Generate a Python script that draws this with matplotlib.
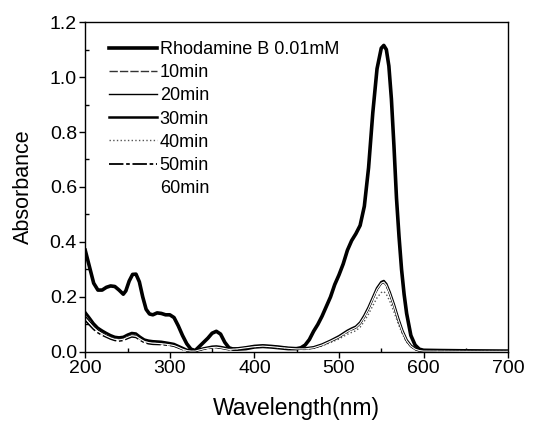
import matplotlib
matplotlib.use("Agg")
import matplotlib.pyplot as plt
from matplotlib.ticker import MultipleLocator

plt.rcParams['font.family'] = ['Liberation Sans', 'DejaVu Sans']

# Rhodamine B 0.01 mM reference spectrum
wl_rb = [200, 205, 210, 215, 220, 225, 230, 235, 240, 245, 248, 252, 256, 260,
         264, 268, 272, 276, 280, 285, 290, 295, 300, 305, 310, 315, 320, 325,
         330, 335, 340, 345, 350, 355, 360, 365, 370, 375, 380, 390, 400, 410,
         420, 430, 440, 450, 455, 460, 465, 470, 475, 480, 485, 490, 495, 500,
         505, 510, 515, 520, 525, 530, 535, 540, 545, 550, 553, 556, 559, 562,
         565, 568, 571, 574, 577, 580, 585, 590, 595, 600, 620, 650, 700]
abs_rb = [0.37, 0.31, 0.25, 0.225, 0.225, 0.235, 0.24, 0.238, 0.225, 0.21, 0.222,
          0.258, 0.282, 0.283, 0.255, 0.2, 0.155, 0.138, 0.135, 0.142, 0.14, 0.135,
          0.135, 0.125, 0.095, 0.06, 0.03, 0.01, 0.005, 0.02, 0.035, 0.05, 0.068,
          0.075, 0.065, 0.035, 0.015, 0.01, 0.01, 0.012, 0.018, 0.02, 0.018, 0.015,
          0.012, 0.012, 0.015, 0.025, 0.045, 0.075, 0.1, 0.13, 0.165, 0.2, 0.245,
          0.28, 0.32, 0.37, 0.405, 0.43, 0.46, 0.53, 0.67, 0.87, 1.03, 1.105, 1.115,
          1.10, 1.04, 0.92, 0.75, 0.56, 0.42, 0.30, 0.21, 0.14, 0.06, 0.025, 0.01,
          0.006, 0.005, 0.004, 0.003]

# spectra after irradiation (shared wavelength grid)
wl_t = [200, 205, 210, 215, 220, 225, 230, 235, 240, 245, 250, 255, 260, 265,
        270, 275, 280, 290, 300, 305, 310, 315, 320, 325, 330, 335, 340, 350,
        355, 360, 370, 380, 390, 400, 410, 420, 430, 440, 450, 460, 470, 480,
        490, 500, 505, 510, 515, 520, 525, 530, 535, 540, 545, 550, 553, 556,
        560, 565, 570, 575, 580, 585, 590, 595, 600, 650, 700]
abs_10 = [0.14, 0.12, 0.10, 0.085, 0.075, 0.066, 0.058, 0.052, 0.05, 0.052, 0.06,
          0.066, 0.064, 0.052, 0.042, 0.038, 0.036, 0.034, 0.03, 0.027, 0.02, 0.013,
          0.007, 0.004, 0.004, 0.008, 0.012, 0.018, 0.019, 0.017, 0.01, 0.012,
          0.016, 0.02, 0.022, 0.02, 0.017, 0.014, 0.012, 0.012, 0.016, 0.026, 0.04,
          0.055, 0.065, 0.075, 0.083, 0.09, 0.105, 0.13, 0.16, 0.195, 0.23, 0.252,
          0.256, 0.245, 0.215, 0.17, 0.12, 0.075, 0.042, 0.022, 0.01, 0.005,
          0.003, 0.002, 0.002]
abs_20 = [0.13, 0.112, 0.094, 0.08, 0.07, 0.061, 0.054, 0.048, 0.046, 0.048, 0.055,
          0.061, 0.059, 0.048, 0.039, 0.035, 0.033, 0.031, 0.027, 0.024, 0.018, 0.011,
          0.006, 0.003, 0.003, 0.007, 0.011, 0.016, 0.017, 0.015, 0.009, 0.011,
          0.015, 0.019, 0.021, 0.019, 0.016, 0.013, 0.011, 0.011, 0.015, 0.025, 0.039,
          0.054, 0.064, 0.074, 0.082, 0.089, 0.104, 0.128, 0.158, 0.193, 0.228, 0.25,
          0.254, 0.243, 0.213, 0.168, 0.118, 0.074, 0.041, 0.021, 0.01, 0.005,
          0.003, 0.002, 0.002]
abs_30 = [0.145, 0.125, 0.104, 0.088, 0.078, 0.069, 0.061, 0.055, 0.053, 0.055, 0.063,
          0.069, 0.067, 0.055, 0.045, 0.041, 0.039, 0.037, 0.032, 0.029, 0.022, 0.015,
          0.008, 0.005, 0.005, 0.009, 0.013, 0.019, 0.02, 0.018, 0.012, 0.013,
          0.017, 0.022, 0.024, 0.022, 0.019, 0.015, 0.013, 0.013, 0.017, 0.027, 0.041,
          0.057, 0.067, 0.077, 0.085, 0.092, 0.107, 0.132, 0.162, 0.197, 0.232, 0.254,
          0.258, 0.247, 0.217, 0.172, 0.122, 0.077, 0.043, 0.023, 0.011, 0.005,
          0.003, 0.002, 0.002]
abs_40 = [0.12, 0.104, 0.088, 0.075, 0.066, 0.058, 0.051, 0.046, 0.044, 0.046, 0.052,
          0.058, 0.056, 0.046, 0.037, 0.033, 0.031, 0.029, 0.025, 0.022, 0.016, 0.01,
          0.005, 0.003, 0.003, 0.006, 0.01, 0.015, 0.016, 0.014, 0.009, 0.01,
          0.014, 0.018, 0.02, 0.018, 0.015, 0.012, 0.01, 0.01, 0.014, 0.022, 0.034,
          0.047, 0.056, 0.064, 0.071, 0.077, 0.09, 0.112, 0.138, 0.168, 0.197, 0.216,
          0.22, 0.21, 0.185, 0.146, 0.103, 0.065, 0.036, 0.019, 0.009, 0.004,
          0.003, 0.002, 0.002]
abs_50 = [0.115, 0.098, 0.082, 0.07, 0.061, 0.054, 0.047, 0.042, 0.04, 0.042, 0.049,
          0.055, 0.053, 0.043, 0.034, 0.03, 0.028, 0.027, 0.024, 0.021, 0.015, 0.009,
          0.004, 0.002, 0.002, 0.006, 0.01, 0.015, 0.016, 0.014, 0.008, 0.01,
          0.014, 0.018, 0.02, 0.018, 0.015, 0.012, 0.01, 0.01, 0.014, 0.024, 0.038,
          0.053, 0.063, 0.073, 0.081, 0.088, 0.103, 0.127, 0.157, 0.192, 0.227, 0.249,
          0.253, 0.242, 0.212, 0.167, 0.117, 0.073, 0.04, 0.02, 0.01, 0.004,
          0.003, 0.002, 0.002]
abs_60 = [0.122, 0.105, 0.088, 0.075, 0.066, 0.058, 0.051, 0.046, 0.044, 0.046, 0.053,
          0.059, 0.057, 0.047, 0.038, 0.034, 0.032, 0.03, 0.026, 0.023, 0.017, 0.01,
          0.005, 0.003, 0.003, 0.007, 0.011, 0.016, 0.017, 0.015, 0.009, 0.011,
          0.015, 0.019, 0.021, 0.019, 0.016, 0.013, 0.011, 0.011, 0.015, 0.025, 0.039,
          0.054, 0.064, 0.074, 0.082, 0.089, 0.104, 0.128, 0.158, 0.193, 0.228, 0.25,
          0.254, 0.243, 0.213, 0.168, 0.118, 0.074, 0.041, 0.021, 0.01, 0.005,
          0.003, 0.002, 0.002]

labels = ["Rhodamine B 0.01mM", "10min", "20min", "30min", "40min", "50min", "60min"]


def main():
    fig = plt.figure(figsize=(5.36, 4.24), dpi=100)
    ax = fig.add_axes([0.159, 0.170, 0.789, 0.778])

    ax.plot(wl_rb, abs_rb, color="black", lw=2.6, label=labels[0])
    ax.plot(wl_t, abs_10, color="#333333", lw=1.0, ls=(0, (6, 1.5)), label=labels[1])
    ax.plot(wl_t, abs_20, color="black", lw=1.0, label=labels[2])
    ax.plot(wl_t, abs_30, color="black", lw=1.8, label=labels[3])
    ax.plot(wl_t, abs_40, color="#555555", lw=1.0, ls=":", label=labels[4])
    ax.plot(wl_t, abs_50, color="black", lw=1.3, ls=(0, (8, 1.5, 2, 1.5)), label=labels[5])
    # last spectrum is drawn in white, as in the original figure
    ax.plot(wl_t, abs_60, color="white", lw=0.8, label=labels[6])

    ax.set_xlim(200, 700)
    ax.set_ylim(0.0, 1.2)
    ax.xaxis.set_major_locator(MultipleLocator(100))
    ax.xaxis.set_minor_locator(MultipleLocator(50))
    ax.yaxis.set_major_locator(MultipleLocator(0.2))
    ax.yaxis.set_minor_locator(MultipleLocator(0.1))
    ax.yaxis.set_major_formatter(plt.FormatStrFormatter("%.1f"))

    ax.tick_params(which="major", direction="out", length=4, width=1,
                   labelsize=14, top=False, right=False, pad=2)
    ax.tick_params(which="minor", direction="in", length=3, width=1,
                   top=False, right=False)
    for sp in ax.spines.values():
        sp.set_linewidth(1.0)

    ax.set_xlabel("Wavelength(nm)", fontsize=16.5, labelpad=14)
    ax.set_ylabel("Absorbance", fontsize=15.5, labelpad=11)

    ax.legend(loc="upper left", bbox_to_anchor=(0.03, 0.975), frameon=False,
              fontsize=13, handlelength=2.67, handletextpad=0.15,
              labelspacing=0.34, borderaxespad=0.2)

    fig.savefig("out.png", dpi=100)


if __name__ == "__main__":
    main()
